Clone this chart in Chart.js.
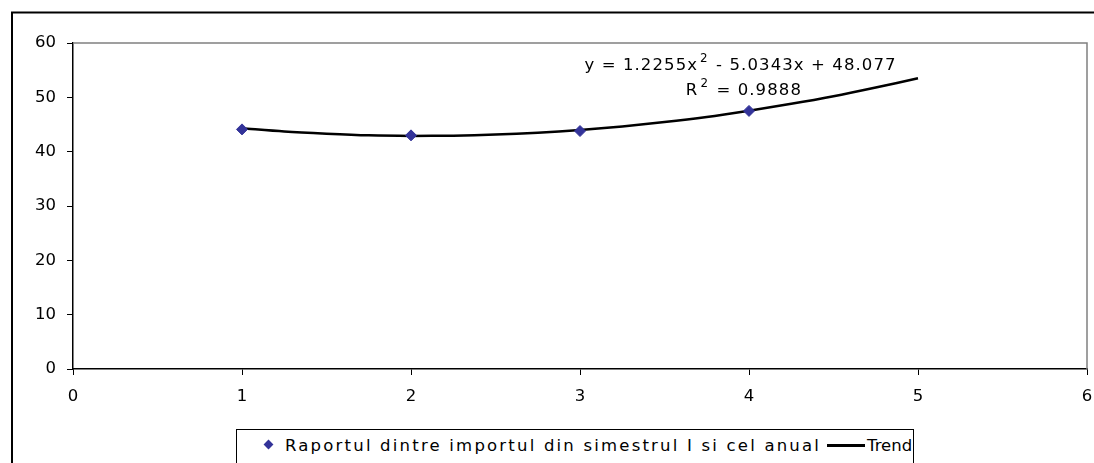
<!DOCTYPE html>
<html>
<head>
<meta charset="utf-8">
<script src="https://cdn.jsdelivr.net/npm/chart.js@4/dist/chart.umd.min.js"></script>
<style>
  html, body { margin: 0; padding: 0; background: #fff; }
  #wrap { position: absolute; left: 0; top: 0; width: 1094px; height: 463px; overflow: hidden; }
  #c { position: absolute; left: 0; top: 0; }
  #legend {
    position: absolute; left: 236px; top: 429px; width: 678px; height: 40px;
    border: 1px solid #000; box-sizing: border-box; background: #fff;
    font-family: "DejaVu Sans", sans-serif; font-size: 16.5px; color: #000;
    white-space: nowrap;
  }
  #legend .item { position: absolute; top: 6px; }
  #legend .txt { letter-spacing: 2.2px; }
  #legend .dia { display: inline-block; width: 7px; height: 7px; background: #333399; transform: rotate(45deg); vertical-align: middle; margin-right: 13px; position: relative; top: -2px; }
  #legend .ln { display: inline-block; width: 38px; height: 3px; background: #000; vertical-align: middle; position: relative; top: -1px; margin-right: 2px; }
</style>
</head>
<body>
<div id="wrap">
  <canvas id="c" width="1094" height="463"></canvas>
  <div id="legend"></div>
</div>
<script>
// ---- data ----
const xValues = [1, 2, 3, 4];
const ratioValues = [44.1, 43.0, 43.8, 47.5];
const seriesName = "Raportul dintre importul din simestrul I si cel anual";
const trendName = "Trend";
const trendX = [1, 1.25, 1.5, 1.75, 2, 2.25, 2.5, 2.75, 3, 3.25, 3.5, 3.75, 4, 4.25, 4.5, 4.75, 5];
const trendY = [44.3, 43.7, 43.3, 43.0, 42.9, 42.95, 43.15, 43.5, 44.0, 44.65, 45.45, 46.4, 47.55, 48.8, 50.2, 51.8, 53.5];
const xTicks = [0, 1, 2, 3, 4, 5, 6];
const yTicks = [0, 10, 20, 30, 40, 50, 60];
// equation label: [normal text, superscript, normal text]
const equationLine1 = ["y = 1.2255x", "2", " - 5.0343x + 48.077"];
const equationLine2 = ["R", "2", " = 0.9888"];

const FONT = '"DejaVu Sans", sans-serif';
const FS = 16.5;

function drawRich(ctx, parts, cx, cy) {
  const big = FS + 'px ' + FONT, small = (FS * 0.72) + 'px ' + FONT;
  ctx.font = big; const w0 = ctx.measureText(parts[0]).width; const w2 = ctx.measureText(parts[2]).width;
  ctx.font = small; const w1 = ctx.measureText(parts[1]).width + 3;
  let x = cx - (w0 + w1 + w2) / 2;
  ctx.textAlign = 'left'; ctx.textBaseline = 'middle';
  ctx.font = big; ctx.fillText(parts[0], x, cy); x += w0;
  ctx.font = small; ctx.fillText(parts[1], x + 2, cy - 7); x += w1;
  ctx.font = big; ctx.fillText(parts[2], x, cy);
}

const framePlugin = {
  id: 'frame',
  beforeDraw(chart) {
    const ctx = chart.ctx;
    ctx.save();
    ctx.strokeStyle = '#000';
    ctx.lineWidth = 2;
    ctx.beginPath();
    ctx.moveTo(12, 463);
    ctx.lineTo(12, 12.5);
    ctx.lineTo(1094, 12.5);
    ctx.stroke();
    ctx.restore();
  },
  afterDatasetsDraw(chart) {
    const ctx = chart.ctx;
    const a = chart.chartArea;
    ctx.save();
    ctx.strokeStyle = '#808080';
    ctx.lineWidth = 1.5;
    ctx.beginPath();
    ctx.moveTo(a.left, a.top);
    ctx.lineTo(a.right, a.top);
    ctx.lineTo(a.right, a.bottom);
    ctx.stroke();
    ctx.restore();
  },
  afterDraw(chart) {
    const ctx = chart.ctx;
    const xs = chart.scales.x, ys = chart.scales.y;
    ctx.save();
    ctx.fillStyle = '#000';
    try { ctx.letterSpacing = '1.1px'; } catch (e) {}
    drawRich(ctx, equationLine1, xs.getPixelForValue(3.95), ys.getPixelForValue(55.8));
    drawRich(ctx, equationLine2, xs.getPixelForValue(3.97), ys.getPixelForValue(51.2));
    ctx.restore();
  }
};

const chart = new Chart(document.getElementById('c'), {
  type: 'scatter',
  data: {
    datasets: [
      {
        label: seriesName,
        data: xValues.map((x, i) => ({ x: x, y: ratioValues[i] })),
        pointStyle: 'rectRot',
        pointRadius: 5.5,
        backgroundColor: '#333399',
        borderColor: '#333399',
        borderWidth: 1,
        order: 1
      },
      {
        label: trendName,
        data: trendX.map((x, i) => ({ x: x, y: trendY[i] })),
        showLine: true,
        borderColor: '#000',
        borderWidth: 2.5,
        pointRadius: 0,
        tension: 0.3,
        order: 2
      }
    ]
  },
  options: {
    responsive: false,
    animation: false,
    devicePixelRatio: 1,
    layout: { padding: { left: 0, right: 7, top: 43, bottom: 0 } },
    plugins: { legend: { display: false }, tooltip: { enabled: false } },
    scales: {
      x: {
        type: 'linear',
        min: 0, max: 6,
        afterBuildTicks(s) { s.ticks = xTicks.map(v => ({ value: v })); },
        afterFit(s) { s.height = 94; s.paddingLeft = 0; s.paddingRight = 0; },
        border: { color: '#000', width: 1.5 },
        grid: { drawOnChartArea: false, drawTicks: true, tickLength: 6, color: '#000', lineWidth: 1 },
        ticks: { color: '#000', font: { family: FONT, size: FS }, padding: 12 }
      },
      y: {
        min: 0, max: 60,
        afterBuildTicks(s) { s.ticks = yTicks.map(v => ({ value: v })); },
        afterFit(s) { s.width = 73; s.paddingTop = 0; s.paddingBottom = 0; },
        border: { color: '#000', width: 1.5 },
        grid: { drawOnChartArea: false, drawTicks: true, tickLength: 6, color: '#000', lineWidth: 1 },
        ticks: { color: '#000', font: { family: FONT, size: FS }, padding: 11 }
      }
    }
  },
  plugins: [framePlugin]
});

// HTML legend built from datasets
const lg = document.getElementById('legend');
const ds = chart.data.datasets;
lg.innerHTML =
  '<span class="item" style="left:28px"><span class="dia"></span><span class="txt">' + ds[0].label + '</span></span>' +
  '<span class="item" style="left:590px"><span class="ln"></span>' + ds[1].label + '</span>';
</script>
</body>
</html>
